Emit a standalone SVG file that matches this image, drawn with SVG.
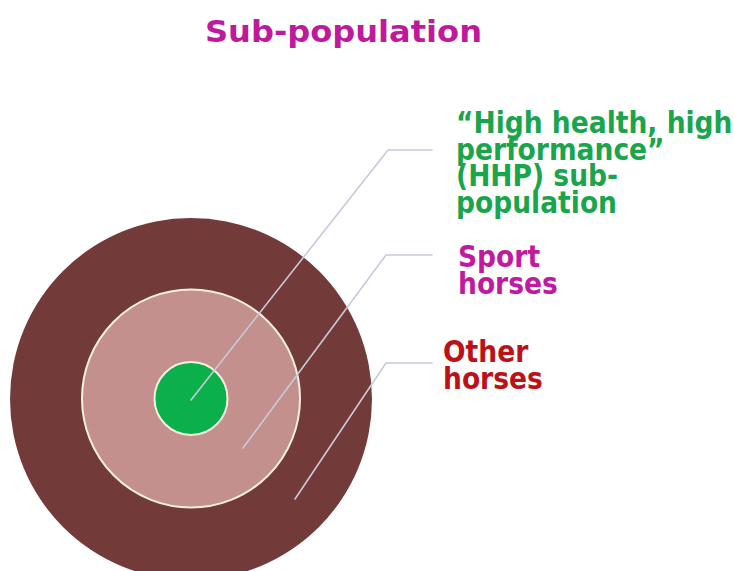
<svg xmlns="http://www.w3.org/2000/svg" width="734" height="571" viewBox="0 0 734 571">
  <style>
    .title { font-family: "DejaVu Sans", Verdana, sans-serif; font-weight: 700; font-size: 29.5px; fill: #bf1a9b; }
    .label { font-family: "DejaVu Sans", Verdana, sans-serif; font-weight: 700; font-size: 29.5px; }
    .hhp { fill: #1aa54d; }
    .sport { fill: #c01aa0; }
    .other { fill: #bb1218; }
    .ring { stroke: #f6f0e2; stroke-width: 2; }
    .leader { fill: none; stroke: #c9c9da; stroke-width: 1.6; stroke-linecap: round; stroke-linejoin: round; }
  </style>
  <rect width="734" height="571" fill="#ffffff"/>

  <text class="title" x="343.5" y="42" text-anchor="middle" textLength="277" lengthAdjust="spacingAndGlyphs">Sub-population</text>

  <!-- concentric populations -->
  <g id="other-horses">
    <circle cx="191" cy="399" r="181" fill="#723b3a"/>
  </g>
  <g id="sport-horses">
    <circle class="ring" cx="191" cy="398.5" r="109" fill="#c4908d"/>
  </g>
  <g id="hhp">
    <circle class="ring" cx="191" cy="398.5" r="36.5" fill="#0cb04a"/>
  </g>

  <!-- leader lines from each ring to its label -->
  <g id="connectors">
    <polyline class="leader" points="191,400 388,150 432,150"/>
    <polyline class="leader" points="243,448 386,255 432,255"/>
    <polyline class="leader" points="295,499 386,363 432,363"/>
  </g>

  <!-- labels: bold sans, slightly condensed horizontally -->
  <g id="label-hhp" class="label hhp">
    <text transform="translate(456,133) scale(0.9,1)">“High health, high</text>
    <text transform="translate(456,159.5) scale(0.9,1)">performance”</text>
    <text transform="translate(456,186) scale(0.9,1)">(HHP) sub-</text>
    <text transform="translate(456,212.5) scale(0.9,1)">population</text>
  </g>
  <g id="label-sport" class="label sport">
    <text transform="translate(458,267) scale(0.9,1)">Sport</text>
    <text transform="translate(458,293.5) scale(0.9,1)">horses</text>
  </g>
  <g id="label-other" class="label other">
    <text transform="translate(443,362) scale(0.9,1)">Other</text>
    <text transform="translate(443,389) scale(0.9,1)">horses</text>
  </g>
</svg>
